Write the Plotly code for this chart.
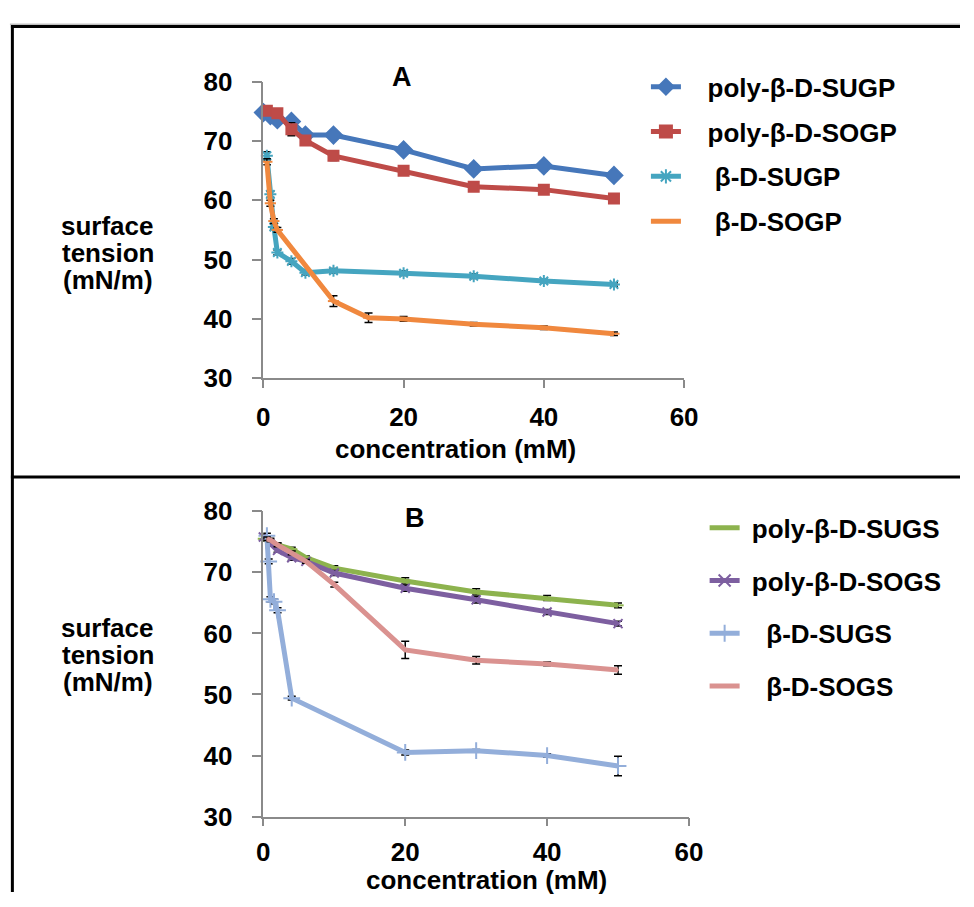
import plotly.graph_objects as go

W, H = 974, 907

# ---------------- data (panel A) ----------------
a_poly_sugp_x = [0, 1, 2, 4, 6, 10, 20, 30, 40, 50]
a_poly_sugp_y = [74.8, 74.3, 73.6, 73.3, 71.0, 71.0, 68.5, 65.3, 65.8, 64.2]
a_poly_sugp_e = [0.3, 0.3, 0.6, 0.5, 0.4, 0.6, 0.6, 0.8, 0.8, 0.7]

a_poly_sogp_x = [0.5, 2, 4, 6, 10, 20, 30, 40, 50]
a_poly_sogp_y = [75.1, 74.7, 72.0, 70.1, 67.5, 65.0, 62.3, 61.8, 60.3]
a_poly_sogp_e = [0.3, 0.6, 1.1, 0.5, 0.8, 0.5, 0.5, 0.8, 0.4]

a_sugp_x = [0.5, 1, 1.5, 2, 4, 6, 10, 20, 30, 40, 50]
a_sugp_y = [67.5, 61.0, 55.5, 51.2, 49.7, 47.8, 48.1, 47.7, 47.2, 46.4, 45.8]
a_sugp_e = [0.7, 0.5, 0.4, 0.4, 0.5, 0.4, 0.4, 0.4, 0.4, 0.3, 0.3]

a_sogp_x = [0.5, 1, 1.5, 2, 10, 15, 20, 30, 40, 50]
a_sogp_y = [66.5, 59.5, 56.5, 55.0, 43.0, 40.2, 40.0, 39.1, 38.5, 37.5]
a_sogp_e = [0.5, 0.5, 0.4, 0.4, 0.9, 0.8, 0.4, 0.3, 0.3, 0.3]

# ---------------- data (panel B) ----------------
b_poly_sugs_x = [0, 1, 2, 4, 6, 10, 20, 30, 40, 50]
b_poly_sugs_y = [75.5, 75.0, 74.5, 73.8, 72.4, 70.7, 68.6, 66.8, 65.8, 64.6]
b_poly_sugs_e = [0.4, 0.4, 0.3, 0.3, 0.3, 0.4, 0.5, 0.5, 0.4, 0.4]

b_poly_sogs_x = [0, 1, 2, 4, 6, 10, 20, 30, 40, 50]
b_poly_sogs_y = [75.8, 74.6, 73.6, 72.4, 71.8, 69.9, 67.4, 65.5, 63.5, 61.6]
b_poly_sogs_e = [0.4, 0.3, 0.3, 0.4, 0.3, 0.4, 0.5, 0.5, 0.4, 0.4]

b_sugs_x = [0.5, 0.75, 1, 1.5, 2, 4, 20, 30, 40, 50]
b_sugs_y = [76.0, 71.8, 65.6, 65.2, 63.8, 49.4, 40.5, 40.8, 40.0, 38.3]
b_sugs_e = [0.4, 0.4, 0.4, 0.4, 0.4, 0.3, 0.4, 0.2, 0.3, 1.6]

b_sogs_x = [0.5, 1, 2, 4, 6, 10, 20, 30, 40, 50]
b_sogs_y = [75.5, 75.3, 74.5, 73.2, 71.8, 68.0, 57.3, 55.6, 55.0, 54.0]
b_sogs_e = [0.3, 0.3, 0.3, 0.3, 0.3, 0.4, 1.4, 0.6, 0.3, 0.7]

x_ticks = [0, 20, 40, 60]
y_ticks = [30, 40, 50, 60, 70, 80]

FONT = "Liberation Sans, Arial, sans-serif"
NB = "\u00a0"
FS = 26


def px(x):
    return x / W


def py(y):
    return 1 - y / H


fig = go.Figure()


def add_series(x, y, e, name, color, symbol, size, xa, ya, legend):
    fig.add_trace(go.Scatter(
        x=x, y=y, name=name, mode="lines+markers",
        xaxis=xa, yaxis=ya, legend=legend, legendgroup=name,
        line=dict(color=color, width=5),
        marker=dict(symbol=symbol, size=size, color=color,
                    line=dict(color=color, width=2)),
        error_y=dict(type="data", array=e, visible=True, color="black",
                     thickness=1.5, width=4),
        cliponaxis=False,
    ))


add_series(a_poly_sugp_x, a_poly_sugp_y, a_poly_sugp_e, NB * 3 + "poly-β-D-SUGP", "#4677BA", "diamond", 13, "x", "y", "legend")
add_series(a_poly_sogp_x, a_poly_sogp_y, a_poly_sogp_e, NB * 3 + "poly-β-D-SOGP", "#BE4B48", "square", 10, "x", "y", "legend")
add_series(a_sugp_x, a_sugp_y, a_sugp_e, NB * 4 + "β-D-SUGP", "#45A5C0", "asterisk-open", 10, "x", "y", "legend")
add_series(a_sogp_x, a_sogp_y, a_sogp_e, NB * 4 + "β-D-SOGP", "#F0883E", "line-ew-open", 8, "x", "y", "legend")

add_series(b_poly_sugs_x, b_poly_sugs_y, b_poly_sugs_e, NB + "poly-β-D-SUGS", "#8DB34E", "line-ew-open", 8, "x2", "y2", "legend2")
add_series(b_poly_sogs_x, b_poly_sogs_y, b_poly_sogs_e, NB + "poly-β-D-SOGS", "#7D5FA0", "x-thin-open", 9, "x2", "y2", "legend2")
add_series(b_sugs_x, b_sugs_y, b_sugs_e, NB * 3 + "β-D-SUGS", "#93AEDA", "cross-thin-open", 12, "x2", "y2", "legend2")
add_series(b_sogs_x, b_sogs_y, b_sogs_e, NB * 3 + "β-D-SOGS", "#DA9290", "line-ew-open", 1, "x2", "y2", "legend2")

axis_common = dict(
    showline=True, linecolor="#8a8a8a", linewidth=1.5,
    ticks="outside", tickcolor="#8a8a8a", tickwidth=1.5,
    showgrid=False, zeroline=False,
    tickfont=dict(family=FONT, size=FS, color="black", weight="bold"),
)

legend_font = dict(family=FONT, size=FS, color="black", weight="bold")

fig.update_layout(
    width=W, height=H,
    margin=dict(l=0, r=0, t=0, b=0),
    paper_bgcolor="white", plot_bgcolor="white",
    xaxis=dict(domain=[px(262), px(692)], range=[0, 60], tickvals=x_ticks,
               anchor="y", ticklen=8, ticklabelstandoff=7, **axis_common),
    yaxis=dict(domain=[py(375.6), py(69)], range=[30, 80], tickvals=y_ticks,
               anchor="x", ticklen=10, ticklabelstandoff=14, **axis_common),
    xaxis2=dict(domain=[px(262), px(697)], range=[0, 60], tickvals=x_ticks,
                anchor="y2", ticklen=8, ticklabelstandoff=3, **axis_common),
    yaxis2=dict(domain=[py(829), py(513.3)], range=[30, 80], tickvals=y_ticks,
                anchor="x2", ticklen=10, ticklabelstandoff=14, **axis_common),
    legend=dict(x=px(653), y=py(50), xanchor="left", yanchor="top",
                font=legend_font, tracegroupgap=8, itemsizing="constant",
                bgcolor="rgba(0,0,0,0)", borderwidth=0),
    legend2=dict(x=px(713), y=py(506), xanchor="left", yanchor="top",
                 font=legend_font, tracegroupgap=16, itemsizing="constant",
                 bgcolor="rgba(0,0,0,0)", borderwidth=0),
    showlegend=True,
)

ann = []


def text(x, y, t, size=FS):
    ann.append(dict(x=px(x), y=py(y), xref="paper", yref="paper", text=t,
                    showarrow=False, xanchor="center", yanchor="middle",
                    font=dict(family=FONT, size=size, color="black", weight="bold")))


text(404, 64, "A", 27)
text(417, 520, "B", 27)
text(458, 449, "concentration (mM)")
text(490, 895, "concentration (mM)")
for yy, t in zip([218, 246, 274], ["surface", "tension", "(mN/m)"]):
    text(103, yy, t)
for yy, t in zip([634, 662, 690], ["surface", "tension", "(mN/m)"]):
    text(103, yy, t)
fig.update_layout(annotations=ann)

# frame lines
shapes = [
    dict(type="line", xref="paper", yref="paper", x0=px(3), x1=1.0, y0=py(9.5), y1=py(9.5),
         line=dict(color="#a0a0a0", width=1)),
    dict(type="line", xref="paper", yref="paper", x0=px(4), x1=1.0, y0=py(12), y1=py(12),
         line=dict(color="black", width=3)),
    dict(type="line", xref="paper", yref="paper", x0=px(5.5), x1=px(5.5), y0=py(10.5), y1=0,
         line=dict(color="black", width=3)),
    dict(type="line", xref="paper", yref="paper", x0=px(4), x1=1.0, y0=py(477.7), y1=py(477.7),
         line=dict(color="black", width=3)),
]
fig.update_layout(shapes=shapes)

fig.write_html("out.html", config={"displayModeBar": False},
               post_script="document.body.style.margin='0';document.body.style.overflow='hidden';")
